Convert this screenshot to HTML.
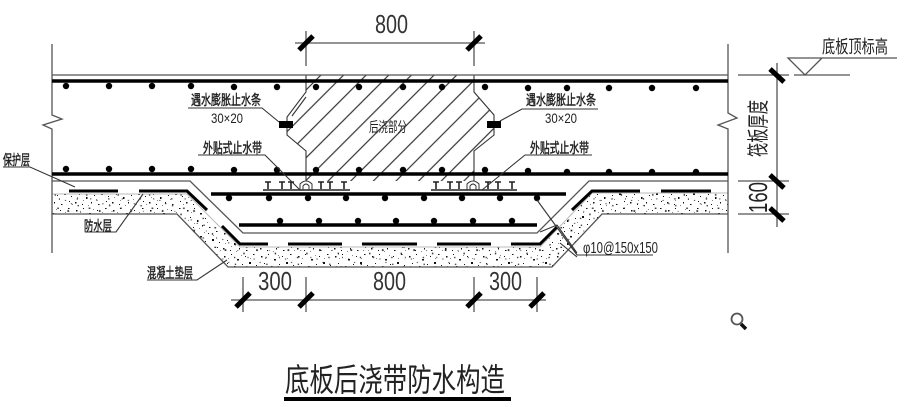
<!DOCTYPE html>
<html><head><meta charset="utf-8"><style>
html,body{margin:0;padding:0;background:#fff;width:909px;height:407px;overflow:hidden}
svg{display:block}
text{font-family:"Liberation Sans","Noto Sans CJK SC",sans-serif;fill:#222}
.t{stroke:#555;stroke-width:1.3;fill:none}
.k{stroke:#000;stroke-width:3.5;fill:none}
.s{stroke:#000;stroke-width:5;fill:none}
.l{stroke:#333;stroke-width:1.1;fill:none}
.c{font-size:14px;stroke:#222;stroke-width:.45}
.d{font-size:26px;fill:#333}
</style></head><body>
<svg width="909" height="407" viewBox="0 0 909 407" xmlns="http://www.w3.org/2000/svg">
<defs>
<pattern id="sp" width="37" height="23" patternUnits="userSpaceOnUse">
<g fill="#111"><rect x="2" y="3" width="1.5" height="1.5"/><rect x="9" y="1" width="1" height="1"/><rect x="15" y="6" width="2" height="1.5"/><rect x="23" y="3" width="1" height="1"/><rect x="31" y="1" width="1.5" height="1"/><rect x="5" y="10" width="1" height="1"/><rect x="12" y="13" width="1.5" height="2"/><rect x="20" y="11" width="1" height="1"/><rect x="27" y="9" width="2" height="2"/><rect x="34" y="12" width="1" height="1"/><rect x="1" y="18" width="1.5" height="1.5"/><rect x="8" y="20" width="1" height="1"/><rect x="17" y="18" width="1" height="1.5"/><rect x="24" y="20" width="1.5" height="1"/><rect x="32" y="17" width="1" height="1"/></g>
<g fill="#888"><rect x="6" y="5" width="1" height="1"/><rect x="19" y="2" width="1" height="1"/><rect x="28" y="5" width="1" height="1"/><rect x="9" y="16" width="1" height="1"/><rect x="22" y="15" width="1" height="1"/><rect x="35" y="20" width="1" height="1"/><rect x="14" y="21" width="1" height="1"/><rect x="3" y="13" width="1" height="1"/></g>
</pattern>
<pattern id="sp2" width="37" height="23" patternUnits="userSpaceOnUse" patternTransform="translate(13,7) scale(.85)">
<g fill="#222"><rect x="2" y="3" width="1.5" height="1.5"/><rect x="15" y="6" width="2" height="1.5"/><rect x="31" y="1" width="1.5" height="1"/><rect x="5" y="10" width="1" height="1"/><rect x="12" y="13" width="1.5" height="2"/><rect x="27" y="9" width="2" height="2"/><rect x="1" y="18" width="1.5" height="1.5"/><rect x="17" y="18" width="1" height="1.5"/><rect x="24" y="20" width="1.5" height="1"/></g>
</pattern>
<pattern id="ha" width="16" height="16" patternUnits="userSpaceOnUse" patternTransform="rotate(-45)">
<line x1="0" y1="8" x2="16" y2="8" stroke="#333" stroke-width="1.2"/>
</pattern>
</defs>

<!-- hatching -->
<polygon points="306,75 474,75 474,92 494,115 494,135 474,151 474,181 306,181 306,151 287,135 287,117 306,92" fill="url(#ha)"/>
<path class="l" d="M306,75V92L287,117V135L306,151V181M474,75V92L494,115V135L474,151V181"/>
<path class="l" d="M306,97L292,116"/>

<!-- concrete -->
<polygon points="52,194 187,194 240,247 540,247 592,193 728,193 728,214 602,214 552,267 228,267 177,214 52,214" fill="url(#sp)"/>
<polygon points="52,194 187,194 240,247 540,247 592,193 728,193 728,214 602,214 552,267 228,267 177,214 52,214" fill="url(#sp2)"/>
<path class="t" d="M52,214H177L228,267H552L602,214H728"/>
<path d="M52,194H187L240,247H540L592,193H728" stroke="#bbb" stroke-width="1" fill="none"/>

<!-- boundary verticals -->
<path class="t" d="M52,44V115L62,119L43,125L52,129V253"/>
<path class="t" d="M728,44V113L737,118L718,125L728,129V253"/>

<!-- slab lines -->
<path class="t" d="M52,75H728"/>
<path class="k" d="M52,81H728M52,174H728"/>
<path class="t" d="M52,181H190L243,233H537L589,181H728"/>

<!-- membrane -->
<path d="M69,191H118M139,191H187L207,210M222,226L240,244H268M288,244H342M362,244H417M437,244H491M511,244H540L557,227M572,210L592,191H640M661,191H711" stroke="#000" stroke-width="3" fill="none"/>

<!-- inner rebar -->
<path class="k" d="M211,194H566M239,225H537"/>

<!-- dots -->
<g fill="#000">
<circle cx="66" cy="86" r="3.2"/><circle cx="109" cy="86" r="3.2"/><circle cx="152" cy="86" r="3.2"/><circle cx="191" cy="86" r="3.2"/><circle cx="234" cy="87" r="3.2"/><circle cx="277" cy="87" r="3.2"/><circle cx="316" cy="87" r="3.2"/><circle cx="359" cy="87" r="3.2"/><circle cx="403" cy="87" r="3.2"/><circle cx="442" cy="87" r="3.2"/><circle cx="485" cy="87" r="3.2"/><circle cx="528" cy="88" r="3.2"/><circle cx="567" cy="88" r="3.2"/><circle cx="609" cy="88" r="3.2"/><circle cx="652" cy="88" r="3.2"/><circle cx="696" cy="88" r="3.2"/>
<circle cx="66" cy="169" r="3.2"/><circle cx="109" cy="169" r="3.2"/><circle cx="152" cy="169" r="3.2"/><circle cx="191" cy="169" r="3.2"/><circle cx="234" cy="170" r="3.2"/><circle cx="277" cy="170" r="3.2"/><circle cx="316" cy="170" r="3.2"/><circle cx="359" cy="170" r="3.2"/><circle cx="403" cy="170" r="3.2"/><circle cx="442" cy="170" r="3.2"/><circle cx="485" cy="170" r="3.2"/><circle cx="528" cy="171" r="3.2"/><circle cx="567" cy="172" r="3.2"/><circle cx="609" cy="172" r="3.2"/><circle cx="652" cy="172" r="3.2"/><circle cx="696" cy="172" r="3.2"/>
<circle cx="229" cy="198" r="3.2"/><circle cx="269" cy="198" r="3.2"/><circle cx="308" cy="198" r="3.2"/><circle cx="346" cy="198" r="3.2"/><circle cx="385" cy="198" r="3.2"/><circle cx="424" cy="198" r="3.2"/><circle cx="462" cy="198" r="3.2"/><circle cx="500" cy="198" r="3.2"/><circle cx="537" cy="198" r="3.2"/>
<circle cx="280" cy="221" r="3.2"/><circle cx="319" cy="221" r="3.2"/><circle cx="358" cy="221" r="3.2"/><circle cx="396" cy="221" r="3.2"/><circle cx="434" cy="221" r="3.2"/><circle cx="473" cy="221" r="3.2"/><circle cx="512" cy="221" r="3.2"/>
</g>

<!-- waterstops -->
<path d="M263,190H350M431,190H517" stroke="#444" stroke-width="1.8" fill="none"/>
<path d="M265,182H271M268,182V189M279,182H285M282,182V189M288,182H294M291,182V189M318,182H324M321,182V189M327,182H333M330,182V189M341,182H347M344,182V189M433,182H439M436,182V189M447,182H453M450,182V189M456,182H462M459,182V189M485,182H491M488,182V189M495,182H501M498,182V189M509,182H515M512,182V189" stroke="#222" stroke-width="1.6" fill="none"/>
<path d="M300,190V184Q306,178 312,184V190M303,190V186Q306,182 309,186V190M467,190V184Q473,178 479,184V190M470,190V186Q473,182 476,186V190" stroke="#333" stroke-width="1" fill="none"/>

<!-- blocks -->
<rect x="279" y="121" width="14" height="7" fill="#000"/>
<rect x="487" y="121" width="14" height="7" fill="#000"/>

<!-- leaders -->
<path class="l" d="M188,108H262L279,122M598,109H522L500,121M198,155H265L300,190M592,155H525L482,190M3,167H30L75,187M85,232H116L143,194M147,280H197L227,260M653,255H577L537,200M540,232L557,225L577,253M560,243L577,257"/>

<!-- labels -->
<text x="191" y="105" class="c" textLength="70" lengthAdjust="spacingAndGlyphs">遇水膨胀止水条</text>
<text x="526" y="105" class="c" textLength="70" lengthAdjust="spacingAndGlyphs">遇水膨胀止水条</text>
<text x="211" y="123" font-size="14" textLength="32" lengthAdjust="spacingAndGlyphs">30×20</text>
<text x="545" y="123" font-size="14" textLength="32" lengthAdjust="spacingAndGlyphs">30×20</text>
<text x="203" y="153" class="c" textLength="59" lengthAdjust="spacingAndGlyphs">外贴式止水带</text>
<text x="530" y="153" class="c" textLength="59" lengthAdjust="spacingAndGlyphs">外贴式止水带</text>
<text x="369" y="132" font-size="14" textLength="38" lengthAdjust="spacingAndGlyphs">后浇部分</text>
<text x="3" y="165" class="c" textLength="27" lengthAdjust="spacingAndGlyphs">保护层</text>
<text x="84" y="231" class="c" textLength="28" lengthAdjust="spacingAndGlyphs">防水层</text>
<text x="147" y="278" class="c" textLength="46" lengthAdjust="spacingAndGlyphs">混凝土垫层</text>
<text x="583" y="253" font-size="16" textLength="75" lengthAdjust="spacingAndGlyphs">φ10@150x150</text>
<text x="822" y="53" font-size="18" textLength="66" lengthAdjust="spacingAndGlyphs">底板顶标高</text>

<!-- top dimension -->
<path class="t" d="M295,43H485M306,31V66M474,31V66"/>
<path class="s" d="M299,50L313,36M467,50L481,36"/>
<text x="375" y="33" class="d" textLength="33" lengthAdjust="spacingAndGlyphs">800</text>

<!-- bottom dimension -->
<path class="t" d="M231,300H546M243,277V312M306,277V312M474,277V312M537,277V312"/>
<path class="s" d="M236,307L250,293M299,307L313,293M467,307L481,293M530,307L544,293"/>
<text x="258" y="290" class="d" textLength="34" lengthAdjust="spacingAndGlyphs">300</text>
<text x="373" y="290" class="d" textLength="33" lengthAdjust="spacingAndGlyphs">800</text>
<text x="489" y="290" class="d" textLength="33" lengthAdjust="spacingAndGlyphs">300</text>

<!-- right dimension -->
<path class="t" d="M738,75H789M738,181H789M738,214H789M777,63V227"/>
<path class="s" d="M770,69L784,82M770,175L784,188M770,208L784,221"/>
<text transform="translate(766,157) rotate(-90)" font-size="22" textLength="57" lengthAdjust="spacingAndGlyphs">筏板厚度</text>
<text transform="translate(767,213) rotate(-90)" font-size="26" textLength="31" lengthAdjust="spacingAndGlyphs" fill="#333">160</text>

<!-- elevation mark -->
<path class="t" d="M897,58H788L805,75L822,58M794,75H850"/>

<!-- magnifier -->
<circle cx="737" cy="319" r="5.5" fill="none" stroke="#555" stroke-width="1.8"/>
<path d="M741,324L746,329" stroke="#111" stroke-width="3.5"/>

<!-- title -->
<text x="285" y="391" font-size="32" textLength="220" lengthAdjust="spacingAndGlyphs">底板后浇带防水构造</text>
<rect x="284" y="397" width="227" height="4" fill="#000"/>
</svg>
</body></html>
